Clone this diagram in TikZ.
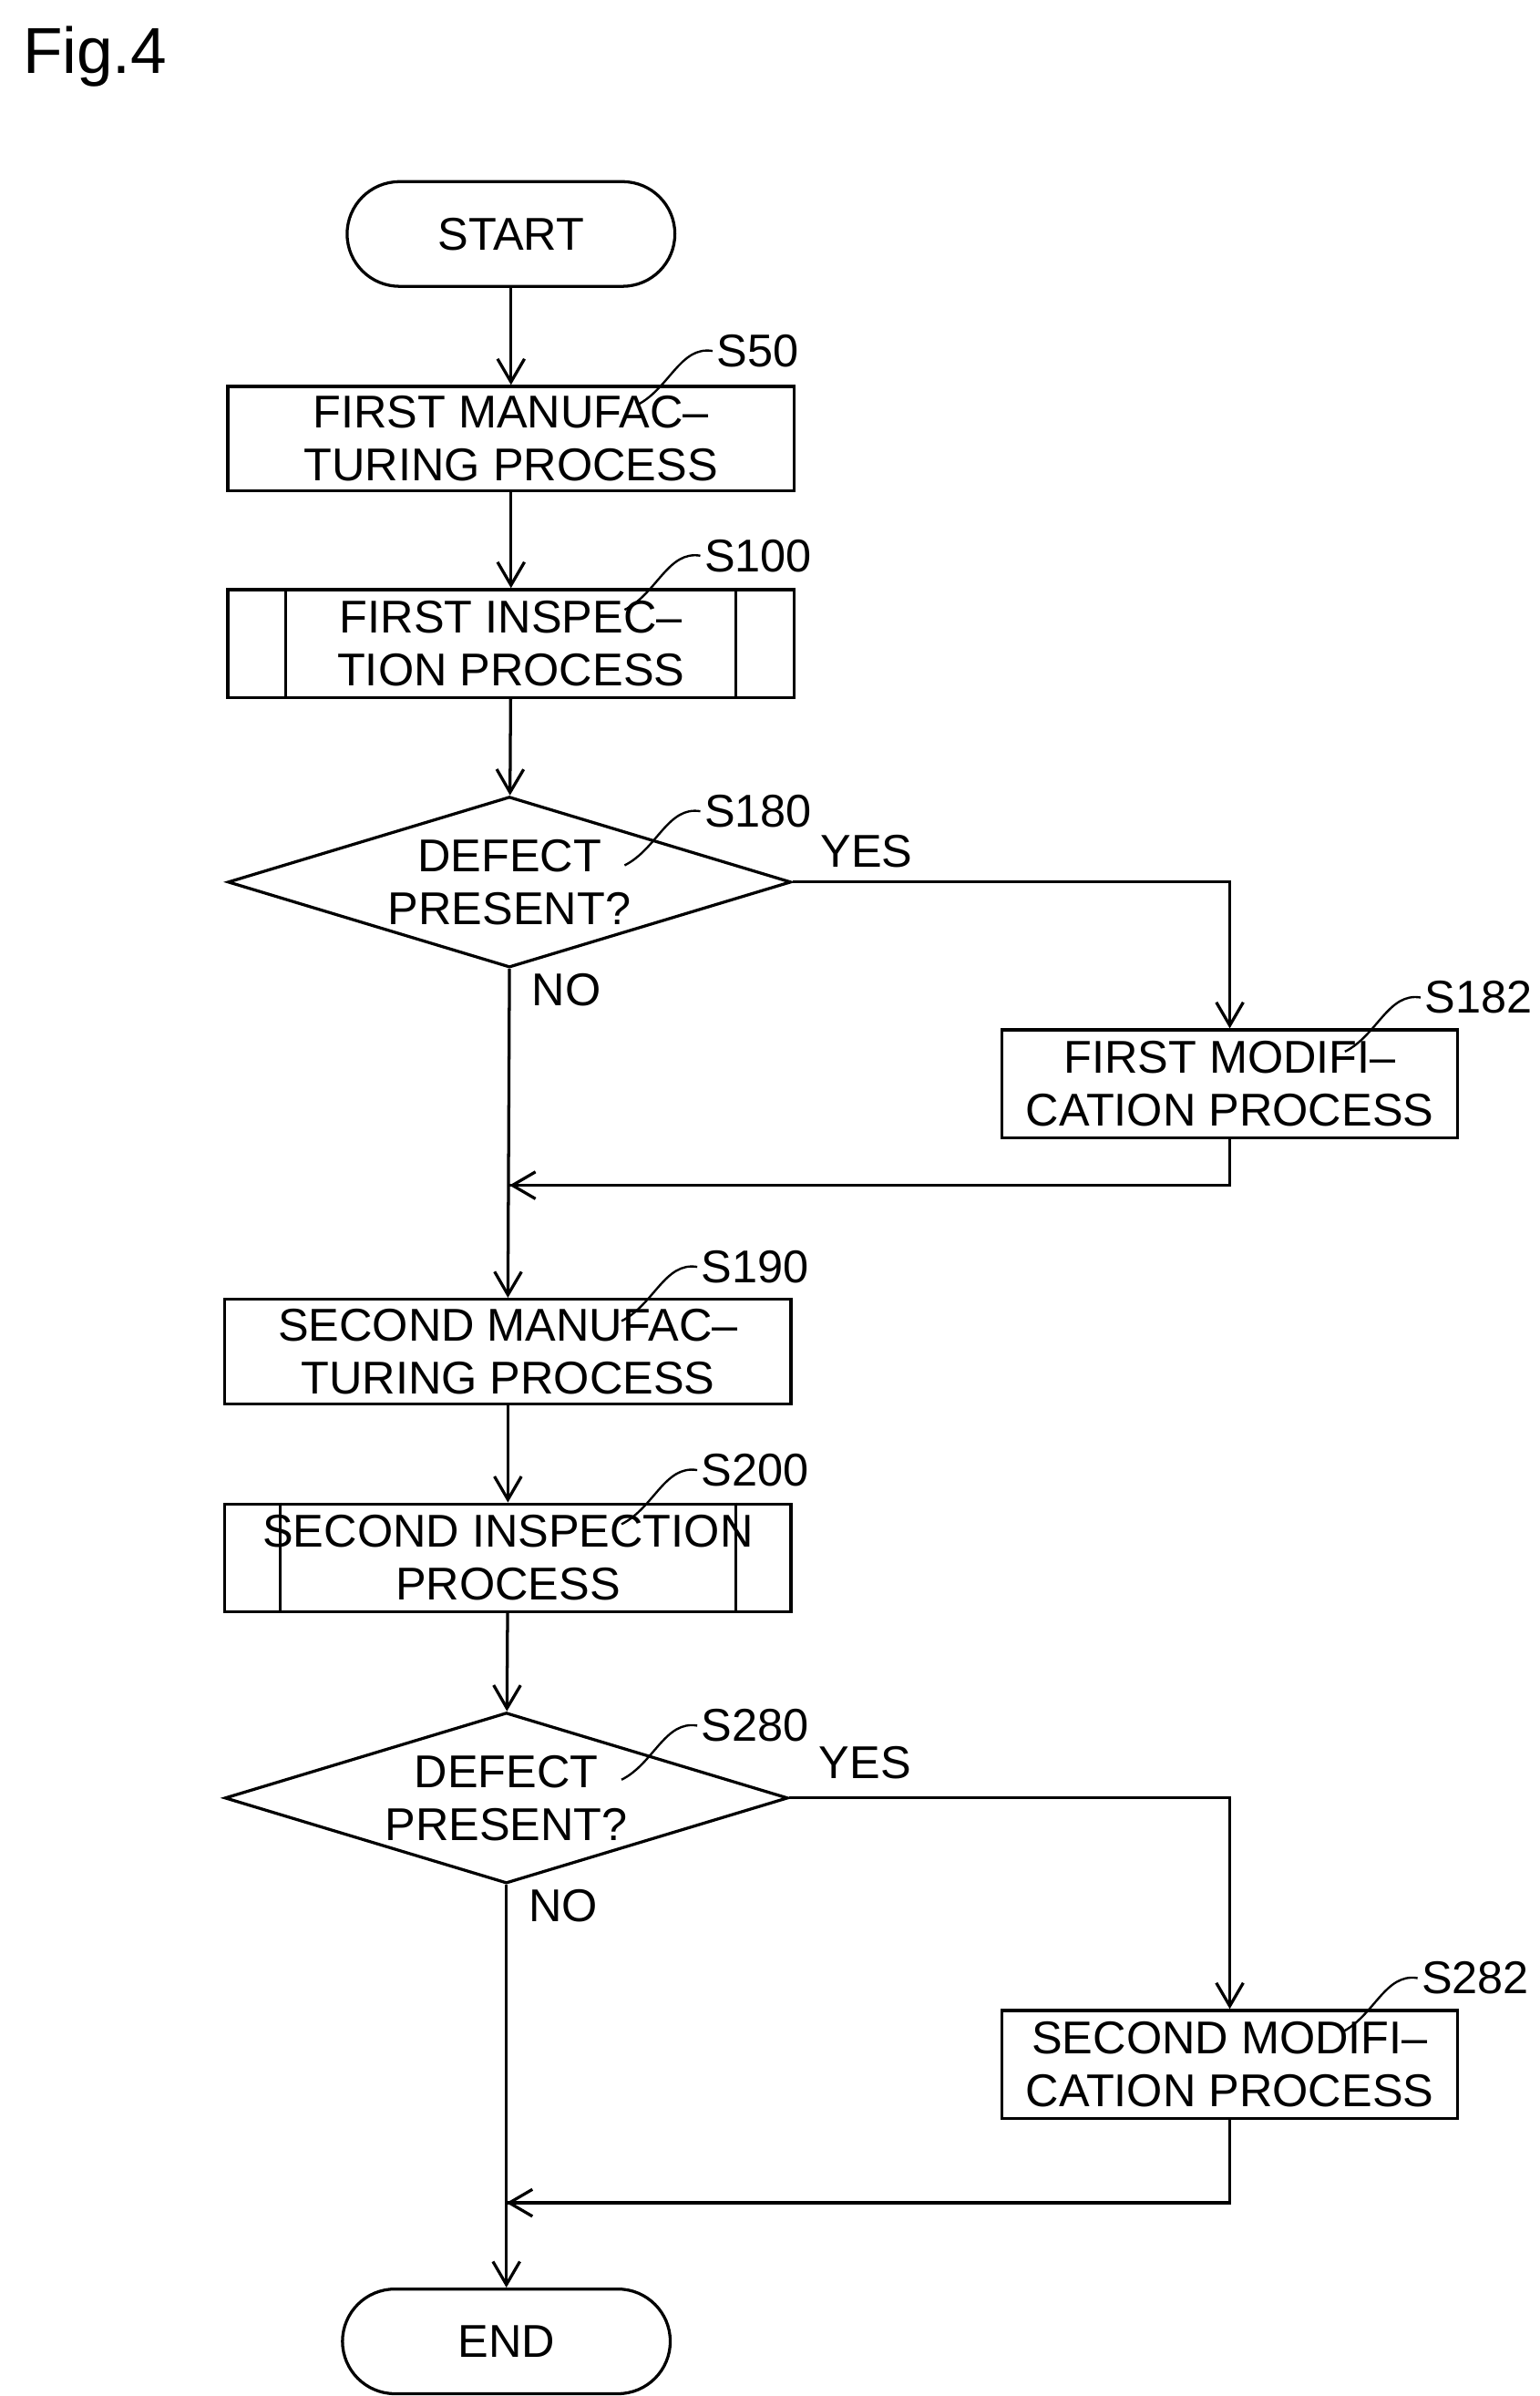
\documentclass[tikz,border=0pt]{standalone}
\usepackage{fontspec}
\setmainfont{Liberation Sans}
\usetikzlibrary{positioning, arrows.meta, shapes.geometric}

\begin{document}
\begin{tikzpicture}[
    x=0.02cm, y=-0.02cm,
    font=\fontsize{17}{19.5}\selectfont,
    line width=1.1pt,
    procbox/.style={draw, align=center, minimum width=7.36cm, minimum height=1.36cm, inner sep=0pt},
    modbox/.style={draw, align=center, minimum width=5.92cm, minimum height=1.4cm, inner sep=0pt},
    subbox/.style={procbox, minimum height=1.4cm},
    termbox/.style={draw, rounded corners=0.68cm, minimum width=4.26cm, minimum height=1.36cm},
    decision/.style={draw, diamond, aspect=3.3, inner sep=0pt, minimum width=7.32cm, minimum height=2.22cm, align=center},
    steplabel/.style={anchor=west, inner sep=1pt},
    flow/.style={-{Straight Barb[length=3mm, width=3.5mm]}}
]
\useasboundingbox (0,0) rectangle (1000,1556.5);

\node (fig) [anchor=north west, font=\fontsize{24}{26}\selectfont] at (8,10) {Fig.4};

% main column
\node (start) [termbox] at (332,152) {START};
\node (s50) [procbox] at (332,285) {FIRST MANUFAC--\\TURING PROCESS};
\node (s100) [subbox] at (332,418) {FIRST INSPEC--\\TION PROCESS};
\draw ([xshift=22]s100.north west) -- ([xshift=22]s100.south west);
\draw ([xshift=-22]s100.north east) -- ([xshift=-22]s100.south east);
\node (s180) [decision] at (331,573) {DEFECT\\PRESENT?};
\node (s182) [modbox] at (799,704) {FIRST MODIFI--\\CATION PROCESS};
\node (s190) [procbox] at (330,878) {SECOND MANUFAC--\\TURING PROCESS};
\node (s200) [subbox] at (330,1012) {SECOND INSPECTION\\PROCESS};
\draw ([xshift=21]s200.north west) -- ([xshift=21]s200.south west);
\draw ([xshift=-21]s200.north east) -- ([xshift=-21]s200.south east);
\node (s280) [decision] at (329,1168) {DEFECT\\PRESENT?};
\node (s282) [modbox] at (799,1341) {SECOND MODIFI--\\CATION PROCESS};
\node (end) [termbox] at (329,1521) {END};

% step labels
\node (l50) [steplabel] at (463,228) {S50};
\node (l100) [steplabel] at (455,361) {S100};
\node (l180) [steplabel] at (455,527) {S180};
\node (l182) [steplabel] at (923,648) {S182};
\node (l190) [steplabel] at (453,823) {S190};
\node (l200) [steplabel] at (453,955) {S200};
\node (l280) [steplabel] at (453,1121) {S280};
\node (l282) [steplabel] at (921,1285) {S282};
\foreach \l in {l50,l100,l180,l182,l190,l200,l280,l282}
  \draw[line width=0.8pt] ([xshift=-28,yshift=-20]\l.west) .. controls ([xshift=-16,yshift=-14]\l.west) and ([xshift=-12,yshift=2]\l.west) .. (\l.west);

% yes/no
\node (yes1) at (563,553) {YES};
\node (no1) at (368,643) {NO};
\node (yes2) at (562,1145) {YES};
\node (no2) at (366,1238) {NO};

% connectors
\coordinate (m1) at (331,770);
\coordinate (m2) at (329,1431);
\draw[flow] (start) -- (s50);
\draw[flow] (s50) -- (s100);
\draw[flow] (s100) -- (s180);
\draw[flow] (s180.east) -| (s182.north);
\draw (s182.south) |- (m1);
\draw[flow] ([xshift=120]m1) -- (m1);
\draw[flow] (s180.south) -- (s190.north);
\draw[flow] (s190) -- (s200);
\draw[flow] (s200) -- (s280);
\draw[flow] (s280.east) -| (s282.north);
\draw (s282.south) |- (m2);
\draw[flow] ([xshift=120]m2) -- (m2);
\draw[flow] (s280.south) -- (end.north);
\end{tikzpicture}
\end{document}
